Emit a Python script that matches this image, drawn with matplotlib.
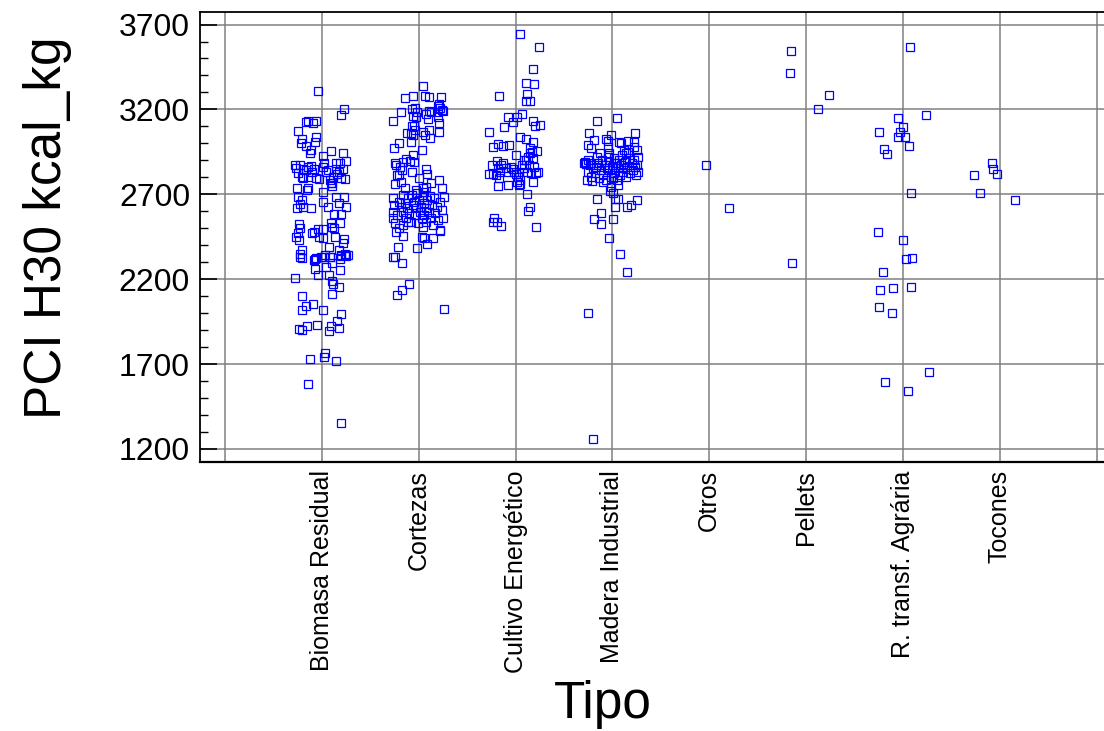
import matplotlib.pyplot as plt
from matplotlib.ticker import MultipleLocator

plt.rcParams['font.family'] = ['Liberation Sans', 'DejaVu Sans']

categories = ['Biomasa Residual', 'Cortezas', 'Cultivo Energético', 'Madera Industrial',
              'Otros', 'Pellets', 'R. transf. Agrária', 'Tocones']
y_ticks = [1200, 1700, 2200, 2700, 3200, 3700]

# (jitter, PCI H30 kcal/kg), one list per Tipo
biomasa = [
    (-0.04, 3308), (0.23, 3202), (0.20, 3169), (-0.16, 3128), (-0.14, 3134), (-0.09, 3118),
    (-0.06, 3134), (-0.25, 3075), (-0.06, 3039), (-0.21, 3024), (-0.22, 3004), (-0.07, 3008),
    (-0.16, 2984), (-0.11, 2961), (-0.12, 2945), (0.09, 2957), (0.22, 2941), (0.01, 2925),
    (0.25, 2896), (0.15, 2884), (0.19, 2882),
    (-0.28, 2873), (-0.27, 2853), (-0.23, 2873), (-0.19, 2847), (-0.25, 2823), (-0.21, 2804),
    (-0.16, 2843), (-0.14, 2859), (-0.11, 2867), (-0.10, 2833), (-0.08, 2851), (-0.06, 2794),
    (-0.03, 2788), (0.01, 2859), (0.02, 2886), (0.06, 2843), (0.08, 2784), (0.10, 2765),
    (0.12, 2804), (0.15, 2847), (0.16, 2819), (0.18, 2833), (0.20, 2794), (0.22, 2847),
    (0.24, 2788), (0.04, 2833), (-0.19, 2794), (-0.14, 2804),
    (-0.26, 2739), (-0.14, 2739), (-0.15, 2725), (0.01, 2715), (0.11, 2749), (0.09, 2765),
    (0.15, 2682), (0.23, 2686), (-0.25, 2682), (-0.21, 2666), (-0.23, 2643), (-0.26, 2619),
    (-0.19, 2627), (-0.11, 2619), (0.01, 2656), (0.06, 2627), (0.18, 2651), (0.25, 2627),
    (0.13, 2582), (0.20, 2582),
    (-0.24, 2525), (-0.23, 2501), (-0.25, 2470), (-0.27, 2450), (-0.24, 2431), (-0.08, 2480),
    (-0.10, 2470), (-0.04, 2494), (0.01, 2494), (-0.03, 2450), (0.01, 2441), (0.10, 2509),
    (0.09, 2529), (0.13, 2499), (0.19, 2529), (0.14, 2450), (0.23, 2435), (0.22, 2411),
    (-0.21, 2372), (-0.23, 2333), (0.07, 2391), (0.08, 2333), (0.18, 2372), (0.20, 2342),
    (0.24, 2346), (0.25, 2338), (0.02, 2329), (-0.06, 2323), (-0.08, 2313),
    (-0.23, 2348), (-0.21, 2325), (-0.07, 2317), (-0.01, 2329), (0.03, 2341), (0.08, 2333),
    (0.11, 2293), (0.19, 2317), (0.24, 2345), (0.27, 2341), (0.20, 2337), (0.04, 2274),
    (-0.07, 2260), (0.19, 2254), (-0.04, 2223), (0.07, 2225), (0.10, 2191), (0.12, 2172),
    (0.18, 2156), (-0.28, 2205),
    (-0.20, 2101), (-0.16, 2042), (-0.09, 2054), (-0.20, 2019), (0.01, 2019), (0.11, 2113),
    (0.20, 1995), (0.16, 1956), (0.07, 1897), (0.09, 1924), (0.18, 1915), (-0.05, 1932),
    (-0.15, 1924), (-0.24, 1909), (-0.20, 1901),
    (0.03, 1767), (0.02, 1740), (-0.12, 1728), (0.15, 1720), (-0.14, 1581), (0.20, 1353),
]

cortezas = [
    (0.04, 3340), (-0.14, 3268), (-0.06, 3281), (0.07, 3281), (0.11, 3273), (0.23, 3273),
    (0.21, 3230), (0.22, 3207), (0.24, 3199), (0.25, 3193), (0.11, 3191), (0.13, 3187),
    (-0.04, 3207), (-0.07, 3205), (-0.02, 3187), (0.20, 3222), (0.20, 3187), (0.08, 3171),
    (-0.26, 3134), (-0.18, 3183), (-0.06, 3163), (-0.03, 3154), (0.10, 3144), (0.20, 3158),
    (0.21, 3122), (-0.07, 3105), (-0.05, 3103), (-0.04, 3079), (0.04, 3069), (0.11, 3077),
    (0.07, 3050), (0.12, 3030), (0.21, 3069), (-0.12, 3059), (-0.08, 3059), (-0.06, 3050),
    (-0.20, 3001), (-0.25, 2975), (-0.08, 3010), (0.03, 2961),
    (-0.06, 2932), (-0.13, 2908), (-0.09, 2897), (-0.05, 2893), (-0.24, 2883), (-0.23, 2873),
    (-0.19, 2863), (-0.16, 2889), (-0.17, 2844), (-0.07, 2834), (-0.22, 2814), (0.08, 2847),
    (0.09, 2818), (-0.20, 2814), (0.00, 2794), (0.21, 2783), (0.13, 2765), (-0.24, 2761),
    (-0.18, 2775), (-0.14, 2740), (0.04, 2740), (0.08, 2743), (-0.03, 2726), (0.24, 2736),
    (-0.27, 2681), (-0.25, 2637), (-0.26, 2598), (-0.27, 2559), (-0.24, 2530), (-0.22, 2579),
    (-0.20, 2657), (-0.18, 2628), (-0.16, 2696), (-0.16, 2598), (-0.14, 2647), (-0.13, 2559),
    (-0.12, 2618), (-0.11, 2677), (-0.10, 2588), (-0.08, 2539), (-0.07, 2696), (-0.06, 2637),
    (-0.05, 2657), (-0.04, 2579), (-0.03, 2622), (-0.02, 2706), (-0.01, 2530), (0.00, 2667),
    (0.01, 2598), (0.02, 2628), (0.03, 2559), (0.04, 2686), (0.04, 2510), (0.05, 2647),
    (0.06, 2579), (0.08, 2618), (0.08, 2539), (0.09, 2667), (0.11, 2598), (0.12, 2692),
    (0.13, 2559), (0.14, 2637), (0.15, 2520), (0.16, 2677), (0.17, 2588), (0.19, 2628),
    (0.20, 2549), (0.22, 2657), (0.24, 2608), (0.25, 2559), (0.26, 2686), (0.22, 2490),
    (-0.20, 2500), (-0.16, 2520), (-0.11, 2539), (0.05, 2716),
    (0.22, 2484), (0.15, 2441), (0.03, 2451), (0.06, 2441), (0.09, 2406), (-0.16, 2457),
    (-0.23, 2480), (-0.21, 2392), (-0.02, 2382), (-0.26, 2333), (-0.24, 2333), (-0.17, 2294),
    (-0.10, 2170), (-0.17, 2137), (-0.22, 2107), (0.26, 2025),
]

cultivo = [
    (0.05, 3642), (0.24, 3565), (0.18, 3438), (0.11, 3355), (0.19, 3348), (-0.17, 3281),
    (0.12, 3291), (0.11, 3251), (0.15, 3251), (-0.08, 3153), (0.07, 3171), (0.02, 3157),
    (-0.03, 3128), (0.18, 3134), (0.25, 3106), (0.20, 3100), (-0.27, 3069), (-0.12, 3094),
    (0.05, 3035), (0.11, 3024), (0.18, 3010), (-0.18, 2996), (-0.23, 2979), (-0.13, 2986),
    (-0.07, 2988), (0.00, 2931), (0.15, 2975), (0.22, 2955), (0.17, 2951), (0.13, 2922),
    (0.11, 2904), (0.18, 2916), (0.15, 2941),
    (-0.24, 2873), (-0.27, 2818), (-0.23, 2818), (-0.19, 2896), (-0.18, 2853), (-0.15, 2873),
    (-0.16, 2833), (-0.13, 2882), (-0.10, 2857), (-0.08, 2833), (-0.05, 2863), (-0.03, 2849),
    (-0.02, 2833), (0.01, 2818), (0.03, 2804), (0.04, 2833), (0.05, 2784), (0.07, 2873),
    (0.09, 2902), (0.09, 2853), (0.12, 2833), (0.14, 2873), (0.16, 2824), (0.19, 2863),
    (0.21, 2824), (0.23, 2833), (0.18, 2774), (-0.20, 2814), (-0.17, 2798), (0.02, 2774),
    (0.04, 2755), (0.05, 2759),
    (-0.18, 2747), (-0.08, 2755), (0.12, 2704), (0.15, 2627), (0.13, 2602),
    (-0.22, 2558), (-0.19, 2535), (-0.15, 2515), (-0.23, 2539), (0.21, 2505),
]

madera = [
    (0.05, 3147), (-0.16, 3134), (-0.24, 3063), (0.23, 3059), (-0.19, 3020), (-0.25, 2992),
    (-0.22, 2975), (-0.07, 3024), (-0.01, 3047), (-0.04, 2977), (-0.04, 3012), (0.07, 3008),
    (0.09, 3004), (0.16, 3012), (0.22, 3008), (0.25, 2961), (0.22, 2981), (0.12, 2961),
    (0.14, 2945),
    (-0.28, 2892), (-0.27, 2878), (-0.25, 2902), (-0.23, 2873), (-0.22, 2886), (-0.25, 2833),
    (-0.26, 2784), (-0.22, 2804), (-0.20, 2853), (-0.18, 2824), (-0.16, 2922), (-0.15, 2882),
    (-0.14, 2794), (-0.12, 2843), (-0.11, 2902), (-0.10, 2814), (-0.08, 2873), (-0.07, 2784),
    (-0.05, 2922), (-0.04, 2843), (-0.03, 2892), (-0.01, 2804), (0.00, 2863), (0.02, 2912),
    (0.02, 2824), (0.04, 2882), (0.05, 2784), (0.06, 2853), (0.07, 2902), (0.08, 2814),
    (0.09, 2873), (0.10, 2931), (0.11, 2833), (0.13, 2892), (0.14, 2804), (0.15, 2863),
    (0.17, 2912), (0.18, 2824), (0.20, 2882), (0.21, 2843), (0.22, 2902), (0.24, 2814),
    (0.25, 2873), (0.26, 2922), (0.27, 2833), (-0.10, 2774), (0.06, 2755), (-0.03, 2941),
    (-0.13, 2941), (0.16, 2951), (0.01, 2794), (-0.06, 2853), (-0.17, 2863), (0.11, 2853),
    (0.03, 2882), (0.23, 2863), (-0.29, 2882), (-0.21, 2780),
    (-0.01, 2745), (-0.02, 2721), (0.01, 2710), (-0.16, 2674), (0.03, 2670), (0.06, 2670),
    (0.25, 2667), (0.19, 2637), (0.15, 2627), (0.03, 2627), (-0.12, 2588), (-0.19, 2556),
    (-0.12, 2523), (0.01, 2553), (-0.03, 2441), (0.08, 2347), (0.15, 2240), (-0.25, 2001),
    (-0.20, 1259),
]

otros = [(-0.03, 2873), (0.20, 2619)]

pellets = [(-0.16, 3544), (-0.17, 3414), (0.12, 3202), (0.24, 3285), (-0.14, 2296)]

r_transf = [
    (0.07, 3566), (-0.05, 3151), (0.24, 3169), (0.00, 3098), (-0.25, 3065), (-0.03, 3065),
    (-0.05, 3036), (0.02, 3039), (0.06, 2983), (-0.19, 2967), (-0.16, 2936), (0.08, 2708),
    (-0.26, 2480), (0.00, 2429), (0.03, 2317), (0.09, 2327), (-0.21, 2241), (-0.24, 2135),
    (-0.10, 2148), (0.08, 2154), (-0.25, 2036), (-0.11, 2001), (0.27, 1652), (-0.18, 1593),
    (0.05, 1542),
]

tocones = [(-0.08, 2883), (-0.07, 2849), (-0.03, 2818), (-0.27, 2812), (-0.20, 2708), (0.16, 2667)]

groups = [biomasa, cortezas, cultivo, madera, otros, pellets, r_transf, tocones]

fig = plt.figure(figsize=(11.04, 7.31), dpi=100)
ax = fig.add_axes([0.181, 0.368, 0.821, 0.6156])

for i, pts in enumerate(groups, start=1):
    xs = [i + dx for dx, _ in pts]
    ys = [v for _, v in pts]
    ax.plot(xs, ys, 's', ms=5.6, mfc='none', mec='#0000ff', mew=0.9, zorder=3)

ax.set_xlim(-0.26, 9.1)
ax.set_ylim(1123, 3774)
ax.set_xticks(range(0, 10))
ax.set_xticklabels([''] + categories + [''], rotation=90, fontsize=18)
ax.set_yticks(y_ticks)
ax.yaxis.set_minor_locator(MultipleLocator(100))
ax.tick_params(axis='x', length=0, pad=6)
ax.tick_params(axis='y', which='major', direction='in', length=12, width=1.2,
               labelsize=23, pad=7)
ax.tick_params(axis='y', which='minor', direction='in', length=6, width=1.0)

ax.grid(True, which='major', color='#808080', linewidth=1.1)
ax.set_axisbelow(True)
for side in ['left', 'top', 'bottom']:
    ax.spines[side].set_linewidth(1.3)
ax.spines['bottom'].set_linewidth(1.6)

ax.set_xlabel('Tipo', fontsize=37, va='center')
ax.xaxis.set_label_coords(0.445, -0.54)
ax.set_ylabel('PCI H30 kcal_kg', fontsize=37, va='center')
ax.yaxis.set_label_coords(-0.1676, 0.52)

fig.savefig('out.png', dpi=100)
